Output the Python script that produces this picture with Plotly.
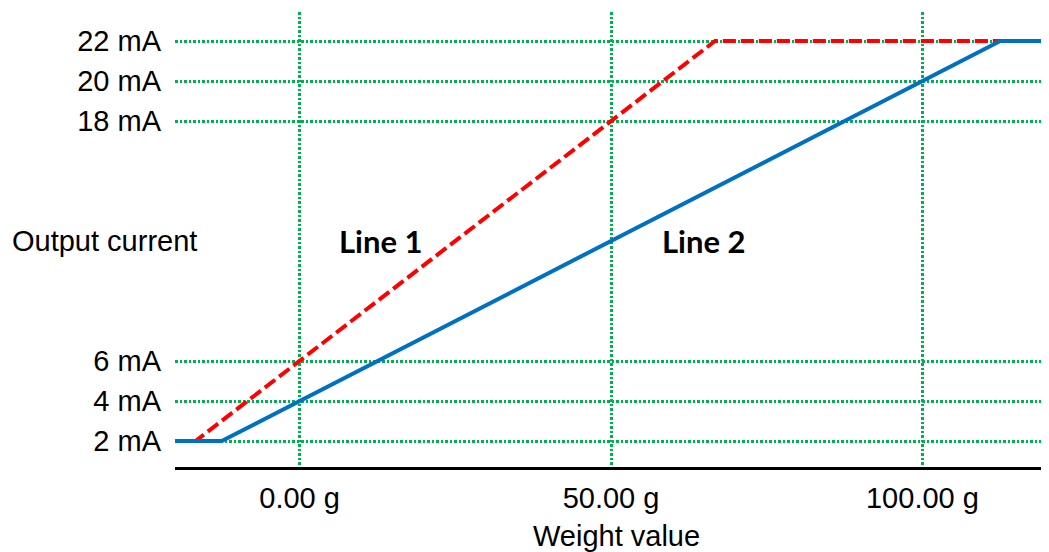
import plotly.graph_objects as go

# Data
line1_weight = [-20, -16.7, 66.7, 120]
line1_current = [2, 2, 22, 22]
line2_weight = [-20, -12.5, 112.5, 120]
line2_current = [2, 2, 22, 22]

x_tickvals = [0, 50, 100]
x_ticktext = ["0.00 g", "50.00 g", "100.00 g"]
y_tickvals = [2, 4, 6, 18, 20, 22]
y_ticktext = ["2 mA", "4 mA", "6 mA", "18 mA", "20 mA", "22 mA"]

labels = ["Line 1", "Line 2"]
label_x = [13, 65]
label_y = [12, 12]

GRID = "#00B050"
BASE_FONT = "Liberation Sans, Arial, sans-serif"

fig = go.Figure()
fig.add_trace(go.Scatter(x=line1_weight, y=line1_current, mode="lines",
                         line=dict(color="#FF0000", width=4, dash="13px,5px"),
                         showlegend=False, hoverinfo="skip"))
fig.add_trace(go.Scatter(x=line2_weight, y=line2_current, mode="lines",
                         line=dict(color="#0070C0", width=4),
                         showlegend=False, hoverinfo="skip"))

for t, lx, ly in zip(labels, label_x, label_y):
    fig.add_annotation(x=lx, y=ly, xref="x", yref="y", text="<b>" + t + "</b>",
                       showarrow=False, xanchor="center", yanchor="middle",
                       font=dict(family="Lato, sans-serif", size=31, color="black"))

fig.add_annotation(x=-0.189, y=12, xref="paper", yref="y", text="Output current",
                   showarrow=False, xanchor="left", yanchor="middle",
                   font=dict(family=BASE_FONT, size=29, color="black"))
fig.add_annotation(x=0.506, y=-0.151, xref="paper", yref="paper", text="Weight value",
                   showarrow=False, xanchor="center", yanchor="middle",
                   font=dict(family=BASE_FONT, size=29, color="black"))

# The page body has an 8px default margin; size the figure so the plot area
# sits where the reference shows it.
fig.update_layout(
    width=1041, height=544,
    margin=dict(l=167, r=2, t=4, b=85),
    paper_bgcolor="white", plot_bgcolor="white",
    font=dict(family=BASE_FONT, size=29, color="black"),
    xaxis=dict(range=[-20, 120], tickmode="array", tickvals=x_tickvals, ticktext=x_ticktext,
               tickfont=dict(size=29),
               showgrid=True, gridcolor=GRID, gridwidth=2.5, griddash="2.5px,2px",
               zeroline=False, showline=True, linecolor="black", linewidth=3,
               ticks="", ticklabelstandoff=3, fixedrange=True),
    yaxis=dict(range=[0.7, 23.45], tickmode="array", tickvals=y_tickvals, ticktext=y_ticktext,
               tickfont=dict(size=29),
               showgrid=True, gridcolor=GRID, gridwidth=2.5, griddash="2.5px,2px",
               zeroline=False, showline=False, ticks="", ticklabelstandoff=13,
               fixedrange=True),
)

fig.write_html("out.html")
